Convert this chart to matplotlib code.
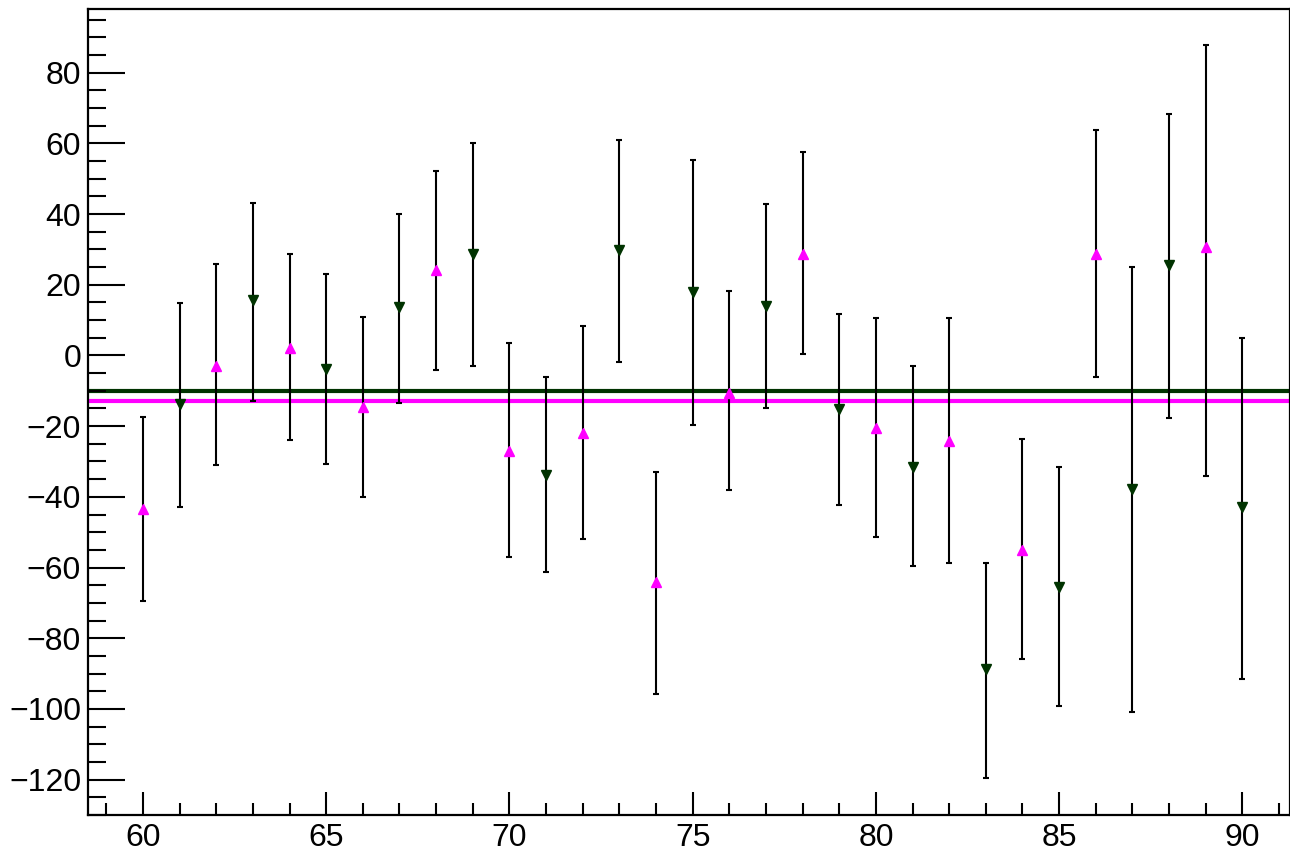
import numpy as np
import matplotlib
matplotlib.use("Agg")
import matplotlib.pyplot as plt
from matplotlib.ticker import MultipleLocator

plt.rcParams['font.family'] = ['Liberation Sans', 'DejaVu Sans']

# points: x, value, upper edge, lower edge
x_up = [60, 62, 64, 66, 68, 70, 72, 74, 76, 78, 80, 82, 84, 86, 89]
y_up = [-43.3, -2.9, 2.2, -14.5, 24.3, -26.9, -21.9, -64.2, -10.7, 28.8, -20.4, -24.1, -54.9, 28.8, 30.8]
hi_up = [-17.3, 26.0, 28.8, 11.0, 52.3, 3.6, 8.4, -32.9, 18.1, 57.6, 10.7, 10.7, -23.5, 63.9, 87.9]
lo_up = [-69.4, -31.0, -24.0, -40.0, -4.0, -56.9, -51.8, -95.7, -38.2, 0.5, -51.5, -58.6, -85.8, -6.0, -34.0]

x_dn = [61, 63, 65, 67, 69, 71, 73, 75, 77, 79, 81, 83, 85, 87, 88, 90]
y_dn = [-13.6, 15.7, -3.7, 13.8, 28.8, -33.7, 29.9, 18.0, 14.1, -15.1, -31.5, -88.6, -65.4, -37.8, 25.6, -42.8]
hi_dn = [14.9, 43.2, 22.9, 40.1, 60.0, -6.2, 61.0, 55.4, 42.7, 11.8, -3.1, -58.6, -31.5, 24.9, 68.4, 5.0]
lo_dn = [-43.0, -12.8, -30.6, -13.4, -2.9, -61.4, -1.8, -19.6, -15.0, -42.2, -59.7, -119.4, -99.2, -101.0, -17.6, -91.4]

level_dn = -10.2
level_up = -12.8

magenta = '#ff00ff'
green = '#003300'

fig = plt.figure(figsize=(12.9, 8.52), dpi=100)
ax = fig.add_axes([88 / 1290, 37 / 852, 1 - 88 / 1290, 806 / 852])

ax.axhline(level_dn, color=green, lw=3, zorder=1)
ax.axhline(level_up, color=magenta, lw=3, zorder=1)

for xs, ys, hs, ls, mk, col in [(x_up, y_up, hi_up, lo_up, '^', magenta),
                                 (x_dn, y_dn, hi_dn, lo_dn, 'v', green)]:
    ys = np.array(ys)
    err = [ys - np.array(ls), np.array(hs) - ys]
    ax.errorbar(xs, ys, yerr=err, fmt='none', ecolor='black', elinewidth=1.5,
                capsize=2.2, capthick=1.5, zorder=2)
    ax.plot(xs, ys, ls='none', marker=mk, color=col, markersize=7, zorder=3)

ax.set_xlim(58.5, 91.3)
ax.set_ylim(-130, 98)

ax.xaxis.set_major_locator(MultipleLocator(5))
ax.xaxis.set_minor_locator(MultipleLocator(1))
ax.yaxis.set_major_locator(MultipleLocator(20))
ax.yaxis.set_minor_locator(MultipleLocator(5))

ax.tick_params(which='both', direction='in', top=False, right=False, width=1.5,
               labelsize=23, color='black')
ax.tick_params(axis='y', which='major', length=26.5, pad=5)
ax.tick_params(axis='y', which='minor', length=13)
ax.tick_params(axis='x', which='major', length=16.5, pad=6)
ax.tick_params(axis='x', which='minor', length=8.5)

for s in ax.spines.values():
    s.set_linewidth(1.6)

fig.savefig('out.png', dpi=100)
